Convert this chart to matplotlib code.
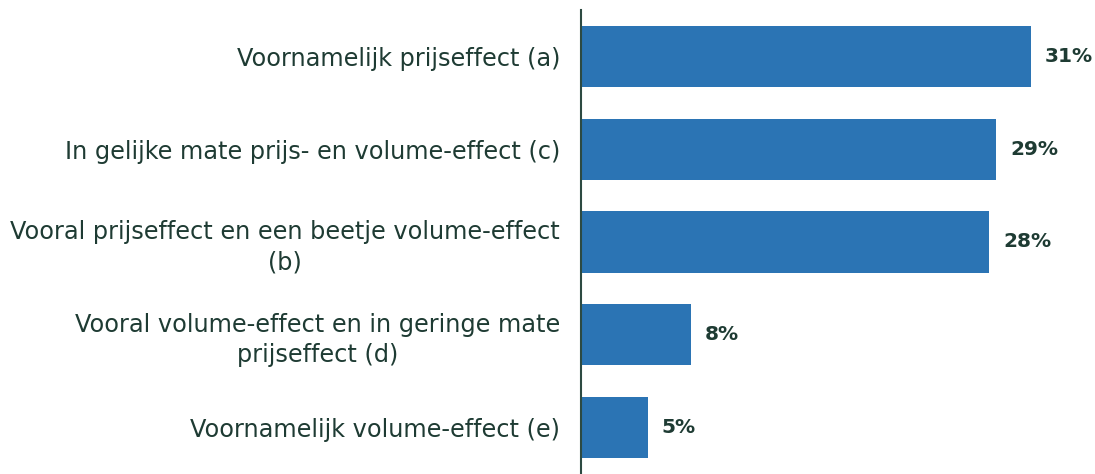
import matplotlib.pyplot as plt

categories = [
    'Voornamelijk prijseffect (a)',
    'In gelijke mate prijs- en volume-effect (c)',
    'Vooral prijseffect en een beetje volume-effect\n(b)',
    'Vooral volume-effect en in geringe mate\nprijseffect (d)',
    'Voornamelijk volume-effect (e)',
]
values = [31.0, 28.6, 28.1, 7.6, 4.6]
labels = ['31%', '29%', '28%', '8%', '5%']

bar_color = '#2b74b4'
text_color = '#1e3b33'

plt.rcParams['font.family'] = 'DejaVu Sans'

fig = plt.figure(figsize=(10.95, 4.74), dpi=100)
ax = fig.add_axes([0.5306, 0.0, 0.4694, 0.979])

y = list(range(len(categories)))
ax.barh(y, values, height=0.66, color=bar_color)

for yi, v, lab in zip(y, values, labels):
    ax.annotate(lab, xy=(v, yi), xytext=(10, 0), textcoords='offset points',
                ha='left', va='center', fontsize=14.5, fontweight='bold', color=text_color)

ax.set_yticks(y)
ax.set_yticklabels(categories, fontsize=17.3, color=text_color, multialignment='center',
                   linespacing=1.3)
ax.tick_params(axis='y', length=0, pad=15)
ax.set_ylim(4.5, -0.5)
ax.set_xlim(0, 35.4)
ax.set_xticks([])

for side in ['top', 'right', 'bottom']:
    ax.spines[side].set_visible(False)
ax.spines['left'].set_color('#2d4a42')
ax.spines['left'].set_linewidth(1.5)

fig.savefig('out.png', dpi=100)
